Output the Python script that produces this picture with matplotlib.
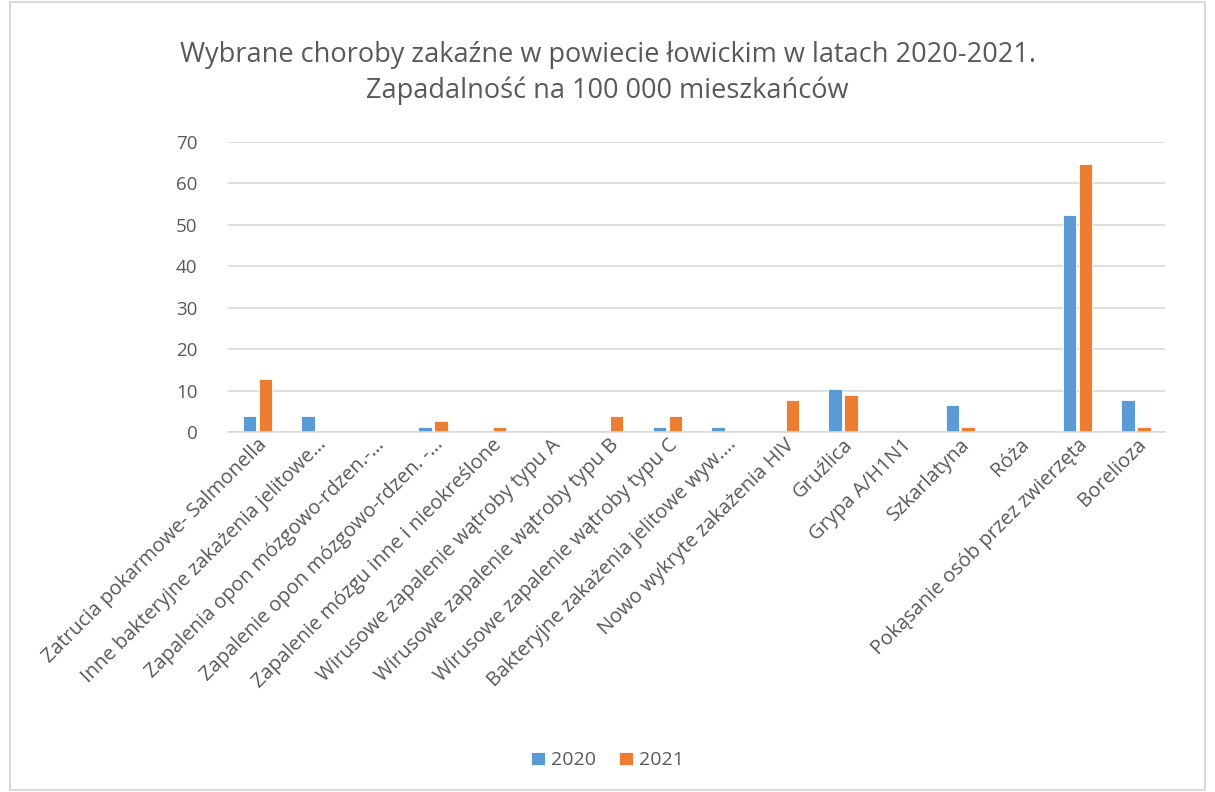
import numpy as np
import matplotlib
matplotlib.use('Agg')
import matplotlib.pyplot as plt
from matplotlib.patches import Rectangle

categories = [
    'Zatrucia pokarmowe- Salmonella',
    'Inne bakteryjne zakażenia jelitowe…',
    'Zapalenia opon mózgowo-rdzen.-…',
    'Zapalenie opon mózgowo-rdzen. -…',
    'Zapalenie mózgu inne i nieokreślone',
    'Wirusowe zapalenie wątroby typu A',
    'Wirusowe zapalenie wątroby typu B',
    'Wirusowe zapalenie wątroby typu C',
    'Bakteryjne zakażenia jelitowe wyw.…',
    'Nowo wykryte zakażenia HIV',
    'Gruźlica',
    'Grypa A/H1N1',
    'Szkarlatyna',
    'Róża',
    'Pokąsanie osób przez zwierzęta',
    'Borelioza',
]
v2020 = [3.9, 3.9, 0, 1.3, 0, 0, 0, 1.3, 1.3, 0, 10.3, 0, 6.5, 0, 52.3, 7.7]
v2021 = [12.9, 0, 0, 2.6, 1.3, 0, 3.9, 3.9, 0, 7.7, 9.0, 0, 1.3, 0, 64.7, 1.3]

plt.rcParams['font.family'] = ['Open Sans', 'DejaVu Sans']
grey = '#595959'

fig = plt.figure(figsize=(12.15, 7.92), dpi=100)
fig.patches.append(Rectangle((0.008, 0.002), 0.984, 0.996, transform=fig.transFigure,
                             fill=False, edgecolor='#d9d9d9', linewidth=1.5))
ax = fig.add_axes([0.1877, 0.4545, 0.7713, 0.3662])

x = np.arange(len(categories))
w = 0.23
ax.bar(x - w / 2 - 0.02, v2020, w, color='#5b9bd5', label='2020',
       edgecolor='white', linewidth=0.6)
ax.bar(x + w / 2 + 0.02, v2021, w, color='#ed7d31', label='2021',
       edgecolor='white', linewidth=0.6)

ax.set_xlim(-0.5, len(categories) - 0.5)
ax.set_ylim(0, 70)
ax.set_yticks(range(0, 71, 10))
ax.yaxis.grid(True, color='#d9d9d9', linewidth=1.2)
ax.set_axisbelow(True)
for s in ['top', 'right', 'left']:
    ax.spines[s].set_visible(False)
ax.spines['bottom'].set_color('#d9d9d9')
ax.spines['bottom'].set_linewidth(1.2)
ax.tick_params(axis='both', length=0, colors=grey, labelsize=14.5)
ax.tick_params(axis='y', labelsize=13.5, pad=22)
ax.tick_params(axis='x', pad=2)
ax.set_xticks(x)
ax.set_xticklabels(categories, rotation=45, ha='right', rotation_mode='anchor')

fig.text(0.5, 0.908, 'Wybrane choroby zakaźne w powiecie łowickim w latach 2020-2021.\n'
         'Zapadalność na 100 000 mieszkańców', ha='center', va='center',
         fontsize=19.5, color=grey, linespacing=1.35)

fig.legend(loc='center', bbox_to_anchor=(0.5, 0.04), ncol=2, frameon=False,
           fontsize=14, labelcolor=grey, handlelength=0.7, handleheight=0.7,
           columnspacing=1.2, handletextpad=0.3)

fig.savefig('out.png', dpi=100)
